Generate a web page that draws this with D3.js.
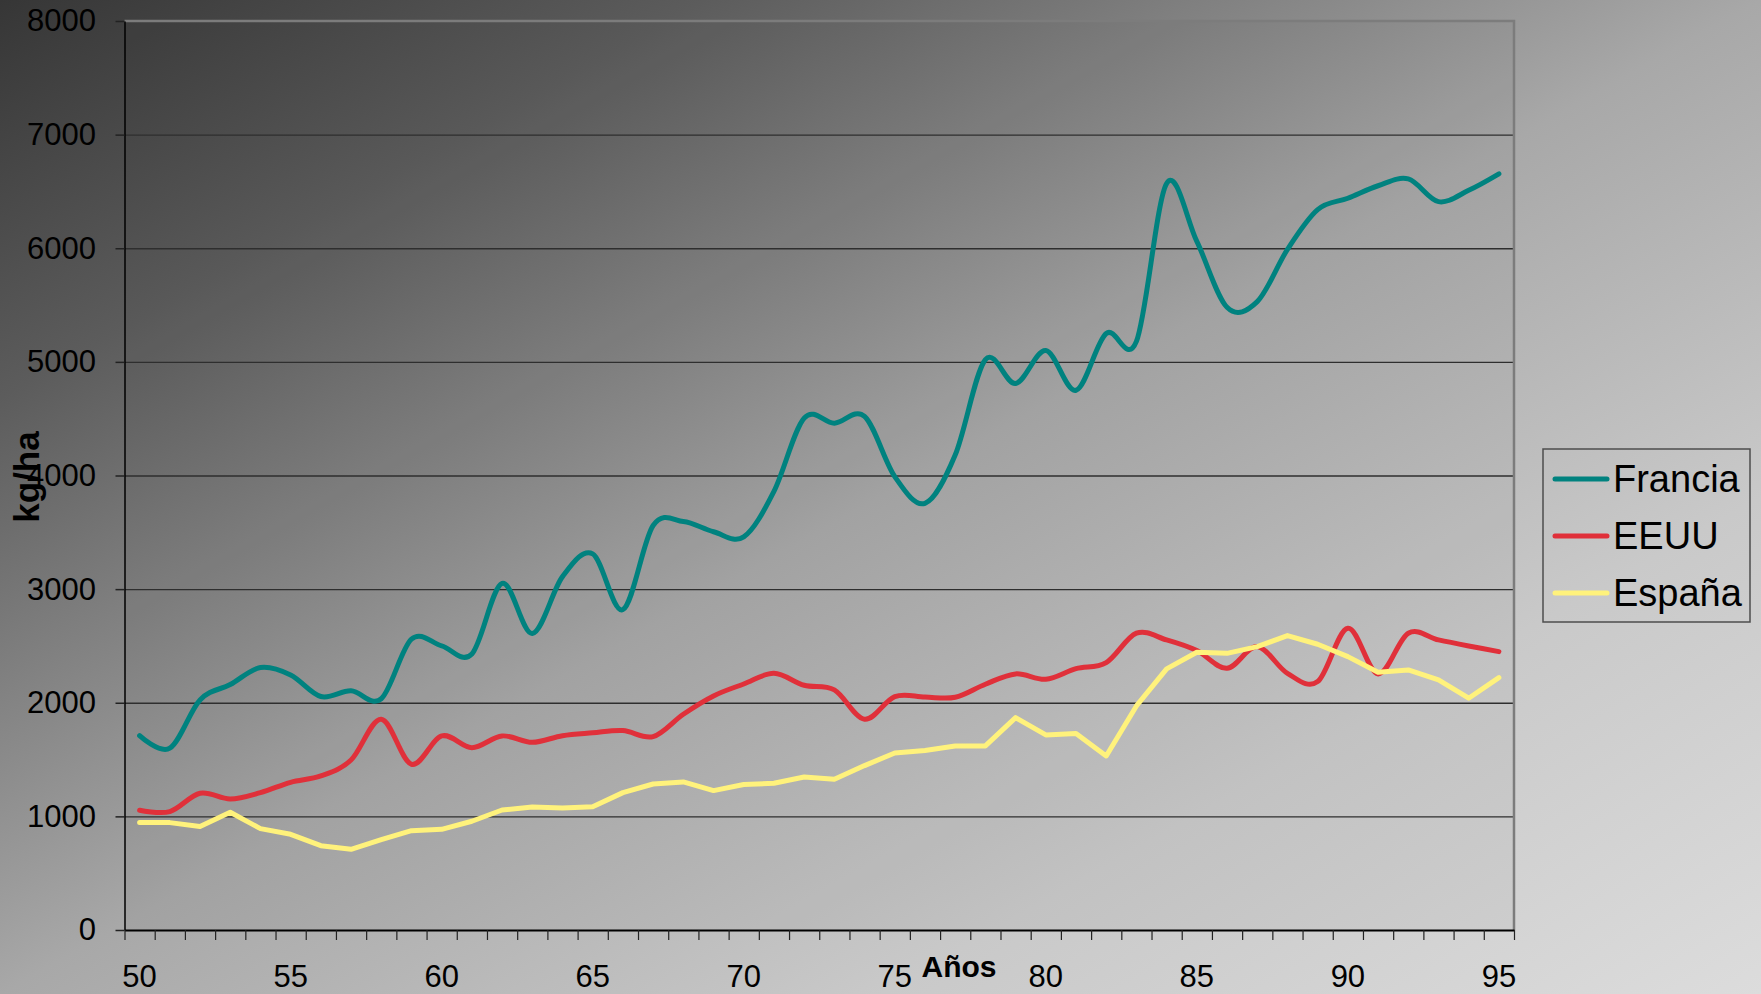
<!DOCTYPE html>
<html>
<head>
<meta charset="utf-8">
<script src="https://cdn.jsdelivr.net/npm/d3@7"></script>
<style>
  body { margin: 0; overflow: hidden; }
  svg { display: block; font-family: "Liberation Sans", Arial, sans-serif; }
</style>
</head>
<body>
<div id="chart"></div>
<script>
var years = [50, 51, 52, 53, 54, 55, 56, 57, 58, 59, 60, 61, 62, 63, 64, 65, 66, 67, 68, 69, 70, 71, 72,
             73, 74, 75, 76, 77, 78, 79, 80, 81, 82, 83, 84, 85, 86, 87, 88, 89, 90, 91, 92, 93, 94, 95];

var francia = [1710, 1600, 2025, 2160, 2310, 2245, 2055, 2105, 2035, 2560, 2500, 2430, 3050, 2610, 3110, 3310,
               2820, 3560, 3595, 3505, 3460, 3860, 4505, 4460, 4520, 3990, 3755, 4180, 5020, 4810, 5100, 4750,
               5250, 5180, 6570, 6060, 5480, 5530, 5990, 6340, 6440, 6550, 6610, 6410, 6510, 6655];

var eeuu = [1054, 1042, 1203, 1153, 1209, 1300, 1356, 1496, 1855, 1459, 1708, 1605, 1708, 1652, 1710, 1735,
            1755, 1702, 1899, 2060, 2165, 2259, 2154, 2113, 1855, 2054, 2050, 2048, 2163, 2254, 2207, 2300,
            2353, 2612, 2553, 2459, 2303, 2494, 2259, 2186, 2656, 2254, 2612, 2553, 2500, 2450];

var espana = [945, 945, 910, 1036, 892, 842, 742, 710, 795, 874, 886, 957, 1056, 1083, 1074, 1085,
              1209, 1285, 1303, 1227, 1280, 1291, 1347, 1327, 1447, 1558, 1579, 1620, 1620, 1869, 1717, 1730,
              1532, 1972, 2298, 2444, 2435, 2494, 2591, 2515, 2406, 2268, 2289, 2201, 2040, 2221];

var seriesNames = ["Francia", "EEUU", "España"];
var xTickLabels = [50, 55, 60, 65, 70, 75, 80, 85, 90, 95];
var yTicks = [0, 1000, 2000, 3000, 4000, 5000, 6000, 7000, 8000];

var W = 1761, H = 994;
var plotLeft = 124.5, plotRight = 1514, plotTop = 21, plotBottom = 930;

var svg = d3.select("#chart").append("svg")
    .attr("width", W)
    .attr("height", H);

// background gradient
var grad = svg.append("defs").append("linearGradient")
    .attr("id", "bg")
    .attr("x1", 0).attr("y1", 0).attr("x2", 1).attr("y2", 1);
grad.append("stop").attr("offset", "0").attr("stop-color", "#363636");
grad.append("stop").attr("offset", "0.2").attr("stop-color", "#5c5c5c");
grad.append("stop").attr("offset", "0.5").attr("stop-color", "#a8a8a8");
grad.append("stop").attr("offset", "0.75").attr("stop-color", "#c9c9c9");
grad.append("stop").attr("offset", "1").attr("stop-color", "#dcdcdc");

svg.append("rect")
    .attr("width", W).attr("height", H)
    .attr("fill", "url(#bg)");

svg.append("rect")
    .attr("x", plotLeft).attr("y", plotTop)
    .attr("width", plotRight - plotLeft).attr("height", plotBottom - plotTop)
    .attr("fill", "#000").attr("fill-opacity", 0.03);

var x = d3.scaleBand()
    .domain(years)
    .range([plotLeft, plotRight])
    .padding(0);

var xEdge = d3.scaleLinear()
    .domain([0, years.length])
    .range([plotLeft, plotRight]);

var y = d3.scaleLinear()
    .domain([0, 8000])
    .range([plotBottom, plotTop]);

// gridlines
svg.append("g")
    .attr("transform", "translate(" + plotLeft + ",0)")
    .call(d3.axisLeft(y)
        .tickValues(yTicks.filter(function (d) { return d > 0 && d < 8000; }))
        .tickSize(-(plotRight - plotLeft))
        .tickFormat(""))
    .call(function (g) { g.select(".domain").remove(); })
    .selectAll("line")
    .attr("stroke", "#2e2e2e")
    .attr("stroke-width", 1.3);

// plot border (top / right)
svg.append("path")
    .attr("d", "M" + plotLeft + "," + plotTop + "H" + plotRight + "V" + plotBottom)
    .attr("fill", "none")
    .attr("stroke", "#7c7c7c")
    .attr("stroke-width", 2.5);

// y axis
var yAxis = svg.append("g")
    .attr("transform", "translate(" + plotLeft + ",0)")
    .call(d3.axisLeft(y)
        .tickValues(yTicks)
        .tickSize(9)
        .tickSizeOuter(0)
        .tickPadding(19.5)
        .tickFormat(d3.format("d")));
yAxis.select(".domain").attr("stroke", "#000").attr("stroke-width", 1.5);
yAxis.selectAll(".tick line").attr("stroke", "#222").attr("stroke-width", 1.5);
yAxis.selectAll("text")
    .attr("font-size", 31)
    .attr("font-family", "'Liberation Sans', Arial, sans-serif")
    .attr("fill", "#000");

// x axis tick marks at category edges
var xTicksAxis = svg.append("g")
    .attr("transform", "translate(0," + plotBottom + ")")
    .call(d3.axisBottom(xEdge)
        .tickValues(d3.range(years.length + 1))
        .tickSize(10)
        .tickSizeOuter(0)
        .tickFormat(""));
xTicksAxis.select(".domain").attr("stroke", "#000").attr("stroke-width", 1.8);
xTicksAxis.selectAll(".tick line").attr("stroke", "#222").attr("stroke-width", 1.2);

// x axis labels at category centres
var xLabels = svg.append("g")
    .attr("transform", "translate(0," + plotBottom + ")")
    .call(d3.axisBottom(x)
        .tickValues(xTickLabels)
        .tickSize(0)
        .tickPadding(35));
xLabels.select(".domain").remove();
xLabels.selectAll("text")
    .attr("font-size", 31)
    .attr("font-family", "'Liberation Sans', Arial, sans-serif")
    .attr("fill", "#000");

// axis titles
svg.append("text")
    .attr("x", 959).attr("y", 977)
    .attr("text-anchor", "middle")
    .attr("font-size", 30)
    .attr("font-weight", "bold")
    .text("Años");

svg.append("text")
    .attr("transform", "translate(39,477) rotate(-90)")
    .attr("text-anchor", "middle")
    .attr("font-size", 35)
    .attr("font-weight", "bold")
    .text("kg/ha");

// lines
var colors = ["#00827f", "#e0303a", "#fff27c"];
var curves = [d3.curveCardinal.tension(0), d3.curveCardinal.tension(0), d3.curveLinear];
var allSeries = [francia, eeuu, espana];

allSeries.forEach(function (values, i) {
    var line = d3.line()
        .x(function (d, j) { return x(years[j]) + x.bandwidth() / 2; })
        .y(function (d) { return y(d); })
        .curve(curves[i]);
    svg.append("path")
        .datum(values)
        .attr("d", line)
        .attr("fill", "none")
        .attr("stroke", colors[i])
        .attr("stroke-width", 5)
        .attr("stroke-linejoin", "round")
        .attr("stroke-linecap", "round");
});

// legend
var legend = svg.append("g");
legend.append("rect")
    .attr("x", 1543).attr("y", 449)
    .attr("width", 207).attr("height", 173)
    .attr("fill", "none")
    .attr("stroke", "#4d4d4d")
    .attr("stroke-width", 1.5);

var items = legend.selectAll(".item")
    .data(seriesNames)
    .enter()
    .append("g")
    .attr("transform", function (d, i) { return "translate(0," + (492 + i * 57) + ")"; });

items.append("line")
    .attr("x1", 1555).attr("x2", 1607)
    .attr("y1", -13).attr("y2", -13)
    .attr("stroke", function (d, i) { return colors[i]; })
    .attr("stroke-width", 5)
    .attr("stroke-linecap", "round");

items.append("text")
    .attr("x", 1613).attr("y", 0)
    .attr("font-size", 38)
    .attr("fill", "#000")
    .text(function (d) { return d; });
</script>
</body>
</html>
